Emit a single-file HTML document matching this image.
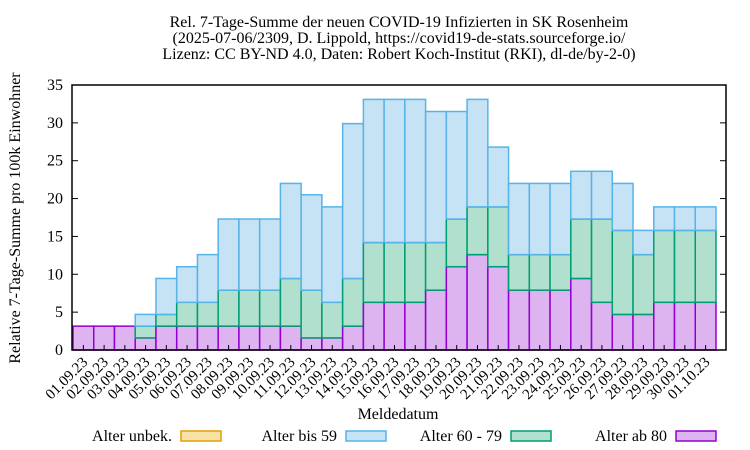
<!DOCTYPE html>
<html><head><meta charset="utf-8"><style>
body{margin:0;background:#fff}
svg{display:block;font-family:"Liberation Serif",serif}
</style></head><body>
<svg id="c" width="750" height="450" xmlns="http://www.w3.org/2000/svg">
<g font-size="16" text-anchor="middle" fill="#000">
<text x="399" y="27">Rel. 7-Tage-Summe der neuen COVID-19 Infizierten in SK Rosenheim</text>
<text x="399" y="43">(2025-07-06/2309, D. Lippold, https://covid19-de-stats.sourceforge.io/</text>
<text x="399" y="59">Lizenz: CC BY-ND 4.0, Daten: Robert Koch-Institut (RKI), dl-de/by-2-0)</text>
</g>
<text transform="translate(20,218) rotate(-90)" font-size="16" text-anchor="middle">Relative 7-Tage-Summe pro 100k Einwohner</text>
<text x="398" y="419" font-size="16" text-anchor="middle">Meldedatum</text>
<g id="bars"></g>
<g id="axes"></g>
<g id="legend" font-size="16"></g>
</svg>
<script>
const dates=["01.09.23","02.09.23","03.09.23","04.09.23","05.09.23","06.09.23","07.09.23","08.09.23","09.09.23","10.09.23","11.09.23","12.09.23","13.09.23","14.09.23","15.09.23","16.09.23","17.09.23","18.09.23","19.09.23","20.09.23","21.09.23","22.09.23","23.09.23","24.09.23","25.09.23","26.09.23","27.09.23","28.09.23","29.09.23","30.09.23","01.10.23"];
const age80=[3.15,3.15,3.15,1.6,3.15,3.15,3.15,3.15,3.15,3.15,3.15,1.6,1.6,3.15,6.3,6.3,6.3,7.9,11.0,12.6,11.0,7.9,7.9,7.9,9.45,6.3,4.7,4.7,6.3,6.3,6.3];
const age6079=[0,0,0,1.55,1.55,3.15,3.15,4.75,4.75,4.75,6.3,6.3,4.7,6.3,7.9,7.9,7.9,6.3,6.3,6.3,7.9,4.7,4.7,4.7,7.85,11.0,11.1,7.9,9.5,9.5,9.5];
const age59=[0,0,0,1.55,4.75,4.7,6.3,9.4,9.4,9.4,12.55,12.6,12.6,20.45,18.9,18.9,18.9,17.3,14.2,14.2,7.9,9.4,9.4,9.4,6.3,6.3,6.2,3.2,3.1,3.1,3.1];
const yTicks=[0,5,10,15,20,25,30,35];
const L=72,R=726,T=85,B=350,yMax=35;
const x0=73,x1=716;
const bw=(x1-x0)/dates.length;
const y=v=>B-v/yMax*(B-T);
const x=i=>x0+i*bw;
const NS="http://www.w3.org/2000/svg";
function mk(tag,attrs,parent){const e=document.createElementNS(NS,tag);for(const k in attrs)e.setAttribute(k,attrs[k]);parent.appendChild(e);return e;}
const bars=document.getElementById('bars'),axes=document.getElementById('axes'),leg=document.getElementById('legend');
const groups=[[age80,"#ddb3f0","#9400d3","age-80"],[age6079,"#b2e0cf","#009e73","age-60-79"],[age59,"#c6e2f5","#56b4e9","age-0-59"]];
dates.forEach((d,i)=>{
  let base=0;
  groups.forEach(([arr,f,s,n])=>{
    const v=arr[i];
    if(v>0){
      const r=mk('rect',{x:x(i),y:y(base+v),width:bw,height:y(base)-y(base+v),fill:f,stroke:s,'stroke-width':1.5},bars);
      
      
    }
    base+=v;
  });
  const cx=x(i)+bw/2;
  mk('line',{x1:cx,y1:B,x2:cx,y2:B-5,stroke:'#000'},axes);
  const t=mk('text',{transform:`translate(${cx+5},${B+13}) rotate(-45)`,'text-anchor':'end','font-size':15},axes);
  t.textContent=d;
  
  
});
yTicks.forEach(v=>{
  mk('line',{x1:L,y1:y(v),x2:L+6,y2:y(v),stroke:'#000'},axes);
  mk('line',{x1:R,y1:y(v),x2:R-6,y2:y(v),stroke:'#000'},axes);
  const t=mk('text',{x:L-9,y:y(v)+5,'text-anchor':'end','font-size':16},axes);
  t.textContent=v;
  
  
});
const fr=mk('rect',{x:L,y:T,width:R-L,height:B-T,fill:'none',stroke:'#000','stroke-width':1.5},axes);


const legItems=[["Alter unbek.","#f9e2a8","#e69f00",172],["Alter bis 59","#c6e2f5","#56b4e9",337],["Alter 60 - 79","#b2e0cf","#009e73",502],["Alter ab 80","#ddb3f0","#9400d3",667]];
legItems.forEach(([lab,f,s,tx])=>{
  const g=mk('g',{},leg);
  
  
  const t=mk('text',{x:tx,y:441,'text-anchor':'end'},g);t.textContent=lab;
  mk('rect',{x:tx+9,y:431,width:40,height:10,fill:f,stroke:s,'stroke-width':1.5},g);
});
</script>
</body></html>
